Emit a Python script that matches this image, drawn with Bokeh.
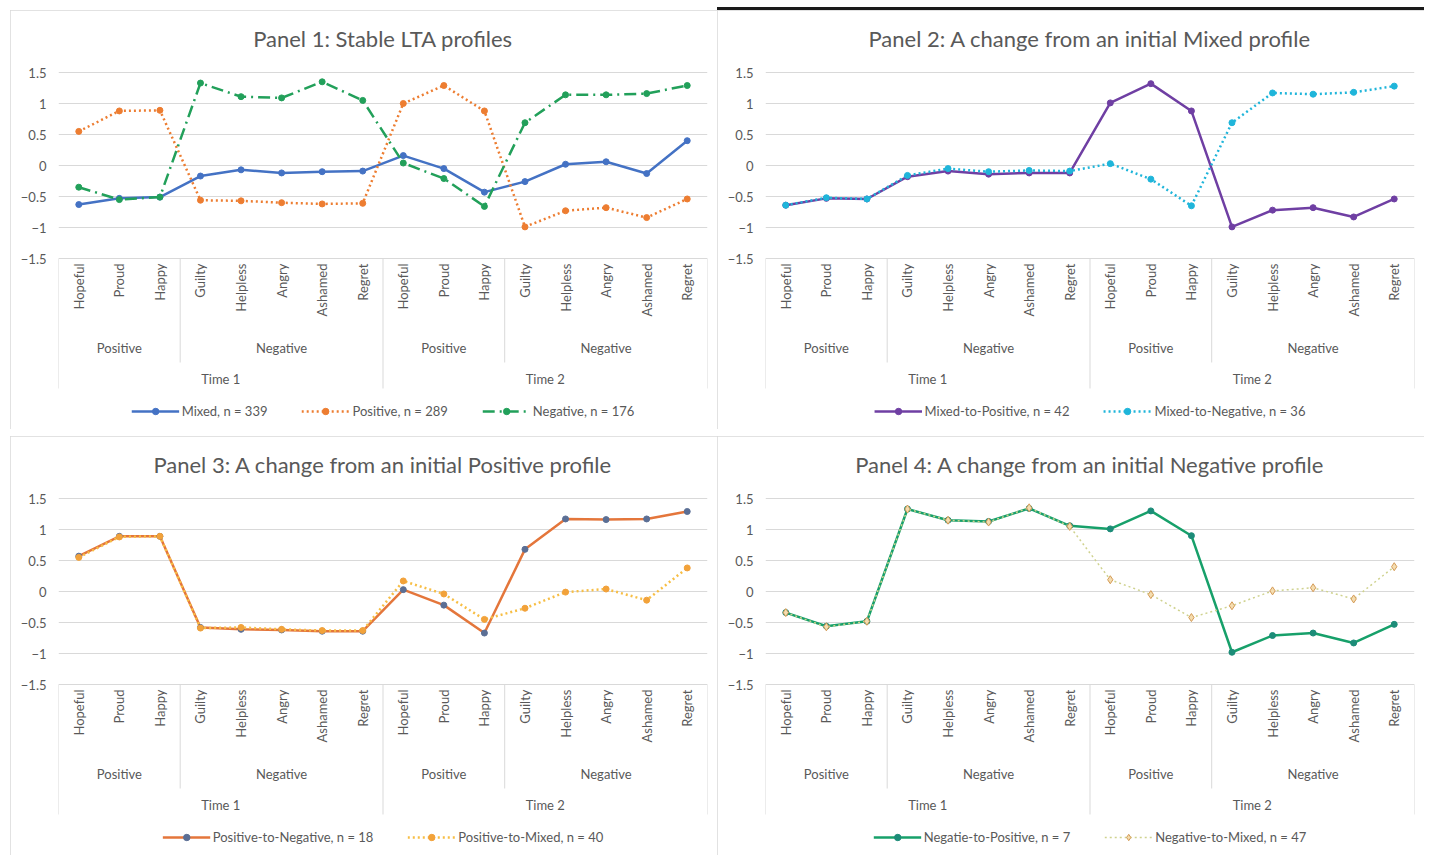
import math
from bokeh.plotting import figure
from bokeh.models import (FactorRange, Range1d, FixedTicker, Legend, LegendItem, Spacer)
from bokeh.core.properties import value
from bokeh.layouts import column, row
from bokeh.embed import file_html
from bokeh.resources import INLINE

# ---------------- data ----------------
times = ["Time 1", "Time 2"]
valences = ["Positive", "Negative"]
positive_emotions = ["Hopeful", "Proud", "Happy"]
negative_emotions = ["Guilty", "Helpless", "Angry", "Ashamed", "Regret"]

# Panel 1: Stable LTA profiles
p1_mixed = [-0.63, -0.53, -0.51, -0.17, -0.07, -0.12, -0.10, -0.09,
            0.16, -0.05, -0.43, -0.26, 0.02, 0.06, -0.13, 0.40]
p1_positive = [0.55, 0.88, 0.89, -0.56, -0.57, -0.60, -0.62, -0.61,
               1.00, 1.29, 0.88, -0.99, -0.73, -0.68, -0.84, -0.54]
p1_negative = [-0.35, -0.55, -0.51, 1.33, 1.11, 1.09, 1.35, 1.05,
               0.04, -0.21, -0.66, 0.69, 1.14, 1.14, 1.16, 1.29]

# Panel 2: change from initial Mixed
p2_mixed_to_positive = [-0.64, -0.53, -0.54, -0.18, -0.09, -0.14, -0.12, -0.12,
                        1.01, 1.32, 0.88, -0.99, -0.72, -0.68, -0.83, -0.54]
p2_mixed_to_negative = [-0.64, -0.52, -0.54, -0.16, -0.05, -0.10, -0.08, -0.09,
                        0.03, -0.22, -0.65, 0.69, 1.17, 1.15, 1.18, 1.28]

# Panel 3: change from initial Positive
p3_positive_to_negative = [0.57, 0.89, 0.89, -0.58, -0.61, -0.62, -0.64, -0.64,
                           0.03, -0.22, -0.67, 0.68, 1.17, 1.16, 1.17, 1.29]
p3_positive_to_mixed = [0.55, 0.88, 0.89, -0.59, -0.58, -0.61, -0.63, -0.63,
                        0.17, -0.04, -0.45, -0.27, -0.01, 0.04, -0.14, 0.38]

# Panel 4: change from initial Negative
p4_negative_to_positive = [-0.34, -0.56, -0.48, 1.33, 1.15, 1.13, 1.34, 1.06,
                           1.01, 1.30, 0.90, -0.98, -0.71, -0.67, -0.83, -0.53]
p4_negative_to_mixed = [-0.34, -0.57, -0.48, 1.33, 1.15, 1.12, 1.35, 1.05,
                        0.19, -0.05, -0.42, -0.23, 0.01, 0.06, -0.12, 0.40]

y_ticks = [-1.5, -1, -0.5, 0, 0.5, 1, 1.5]

emotions_by_valence = {"Positive": positive_emotions, "Negative": negative_emotions}
factors = [(t, v, e) for t in times for v in valences for e in emotions_by_valence[v]]
subgroup_factors = [(t, v) for t in times for v in valences]

# group boundaries (synthetic coordinates of the categorical range)
n_time = len(positive_emotions) + len(negative_emotions)
inner_bounds = [k * n_time + len(positive_emotions) for k in range(len(times))]
outer_bounds = [k * n_time for k in range(len(times) + 1)]

# ---------------- style ----------------
FONT = "Lato"
TXT = "#595959"
GRID = "#D9D9D9"
PX_PER_UNIT = 62.0
TOP_EXTRA_PX = 16
FRAME_W = 649
FRAME_H = 353 + TOP_EXTRA_PX
Y_TOP = 1.5 + TOP_EXTRA_PX / PX_PER_UNIT
Y_BOTTOM = Y_TOP - FRAME_H / PX_PER_UNIT
AXIS_Y = -1.5


def off(px):
    """distance below the category axis, in data units"""
    return AXIS_Y - px / PX_PER_UNIT


def make_panel(title, series, extra_style=None):
    xr = FactorRange(*factors, factor_padding=0, subgroup_padding=0,
                     group_padding=0, range_padding=0)
    p = figure(x_range=xr, y_range=Range1d(Y_BOTTOM, Y_TOP),
               frame_width=FRAME_W, frame_height=FRAME_H,
               output_backend="svg", toolbar_location=None,
               min_border_left=48, min_border_right=10,
               min_border_top=62 - TOP_EXTRA_PX, min_border_bottom=4)
    p.outline_line_color = None
    style = {"outline": "1px solid #D9D9D9", "outline-offset": "-1px"}
    if extra_style:
        style.update(extra_style)
    p.styles = style

    p.title.text = title
    p.title.align = "center"
    p.title.text_font = FONT
    p.title.text_font_size = "22px"
    p.title.text_font_style = "normal"
    p.title.text_color = TXT
    p.title.standoff = 10

    p.xaxis.visible = False
    p.xgrid.grid_line_color = None

    p.yaxis.ticker = FixedTicker(ticks=y_ticks)
    p.yaxis.axis_line_color = None
    p.yaxis.major_tick_line_color = None
    p.yaxis.minor_tick_line_color = None
    p.yaxis.major_tick_out = 0
    p.yaxis.major_tick_in = 0
    p.yaxis.major_label_text_font = FONT
    p.yaxis.major_label_text_font_size = "13px"
    p.yaxis.major_label_text_color = TXT
    p.yaxis.major_label_standoff = 12
    p.ygrid.ticker = FixedTicker(ticks=y_ticks)
    p.ygrid.grid_line_color = GRID

    # multi-level category axis: separators and labels
    p.segment(x0=outer_bounds, y0=AXIS_Y, x1=outer_bounds, y1=off(130),
              line_color=GRID, line_width=1)
    p.segment(x0=inner_bounds, y0=AXIS_Y, x1=inner_bounds, y1=off(104),
              line_color=GRID, line_width=1)
    p.text(x=factors, y=off(5), text=[f[2] for f in factors], angle=math.pi / 2,
           text_align="right", text_baseline="middle", text_font=value(FONT),
           text_font_size="13px", text_color=TXT)
    p.text(x=subgroup_factors, y=off(89), text=[f[1] for f in subgroup_factors],
           text_align="center", text_baseline="middle", text_font=value(FONT),
           text_font_size="13px", text_color=TXT)
    p.text(x=times, y=off(120), text=times,
           text_align="center", text_baseline="middle", text_font=value(FONT),
           text_font_size="13px", text_color=TXT)

    items = []
    for s in series:
        lr = p.line(factors, s["values"], line_color=s["color"], line_width=s.get("width", 2.5),
                    line_dash=s.get("dash", "solid"), line_join="round")
        sr = p.scatter(factors, s["values"], marker=s.get("marker", "circle"),
                       size=s.get("size", 6), fill_color=s.get("mfill", s["color"]),
                       line_color=s.get("mline", s["color"]), line_width=1)
        items.append(LegendItem(label=s["label"], renderers=[lr, sr]))

    leg = Legend(items=items, orientation="horizontal", location="bottom_center",
                 label_text_font=FONT, label_text_font_size="13px", label_text_color=TXT,
                 border_line_color=None, background_fill_alpha=0,
                 glyph_width=48, glyph_height=16, spacing=34, padding=2, margin=6,
                 label_standoff=3)
    p.add_layout(leg)
    return p


panel1 = make_panel("Panel 1: Stable LTA profiles", [
    dict(label="Mixed, n = 339", values=p1_mixed, color="#4472C4"),
    dict(label="Positive, n = 289", values=p1_positive, color="#ED7D31", dash="2 3"),
    dict(label="Negative, n = 176", values=p1_negative, color="#22A05A", dash="12 5 2 5"),
])

panel2 = make_panel("Panel 2: A change from an initial Mixed profile", [
    dict(label="Mixed-to-Positive, n = 42", values=p2_mixed_to_positive, color="#6F3FA3"),
    dict(label="Mixed-to-Negative, n = 36", values=p2_mixed_to_negative, color="#1FB5DA", dash="2 3"),
], extra_style={"box-shadow": "0 -3px 0 #1a1a1a"})

panel3 = make_panel("Panel 3: A change from an initial Positive profile", [
    dict(label="Positive-to-Negative, n = 18", values=p3_positive_to_negative, color="#E4763B",
         mfill="#5B6F95", mline="#5B6F95"),
    dict(label="Positive-to-Mixed, n = 40", values=p3_positive_to_mixed, color="#F7BE45",
         dash="2 3", mfill="#F2A23A", mline="#F2A23A"),
])

panel4 = make_panel("Panel 4: A change from an initial Negative profile", [
    dict(label="Negatie-to-Positive, n = 7", values=p4_negative_to_positive, color="#17A06A",
         mfill="#1C8C78", mline="#1C8C78"),
    dict(label="Negative-to-Mixed, n = 47", values=p4_negative_to_mixed, color="#CFD28E",
         width=1.5, dash="2 3", marker="diamond", size=8, mfill="#F4DDB0", mline="#D49A55"),
])

layout = column(
    Spacer(height=10),
    row(Spacer(width=10), panel1, panel2, spacing=0),
    Spacer(height=7),
    row(Spacer(width=10), panel3, panel4, spacing=0),
    spacing=0,
)

with open("out.html", "w") as f:
    f.write(file_html(layout, INLINE))
